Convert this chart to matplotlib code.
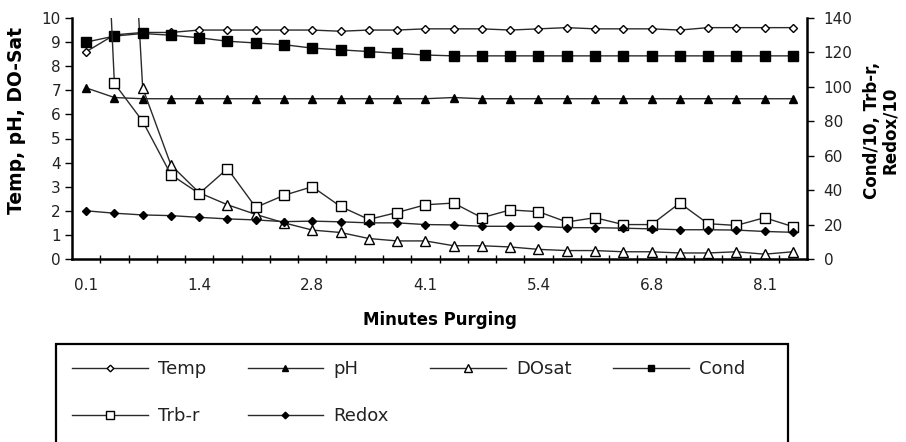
import matplotlib
matplotlib.use("Agg")
import matplotlib.pyplot as plt
import matplotlib.patches as mpatches
import numpy as np

# ---------------- data ----------------
minutes = [0.1, 0.4, 0.8, 1.1, 1.4, 1.8, 2.1, 2.4, 2.8, 3.1, 3.4, 3.8, 4.1,
           4.4, 4.8, 5.1, 5.4, 5.8, 6.1, 6.4, 6.8, 7.1, 7.4, 7.8, 8.1, 8.4]

# left axis series
temp = [8.6, 9.3, 9.4, 9.4, 9.5, 9.5, 9.5, 9.5, 9.5, 9.45, 9.5, 9.5, 9.55,
        9.55, 9.55, 9.5, 9.55, 9.6, 9.55, 9.55, 9.55, 9.5, 9.6, 9.6, 9.6, 9.6]
ph = [7.1, 6.7, 6.65, 6.65, 6.65, 6.65, 6.65, 6.65, 6.65, 6.65, 6.65, 6.65,
      6.65, 6.7, 6.65, 6.65, 6.65, 6.65, 6.65, 6.65, 6.65, 6.65, 6.65, 6.65,
      6.65, 6.65]
dosat = [27, 28, 7.1, 3.9, 2.75, 2.25, 1.85, 1.5, 1.2, 1.1, 0.85, 0.75, 0.75,
         0.55, 0.55, 0.5, 0.4, 0.35, 0.35, 0.3, 0.3, 0.25, 0.25, 0.3, 0.2, 0.3]

# right axis series
cond = [126, 129.5, 131, 130, 128.5, 126.5, 125.5, 124.5, 122.5, 121.5, 120.5,
        119.5, 118.5, 118, 118, 118, 118, 118, 118, 118, 118, 118, 118, 118,
        118, 118]
trb = [450, 102, 80, 49, 38, 52.5, 30, 37, 42, 30.5, 23, 27, 31.5, 32.5, 24,
       28.5, 27.5, 21.5, 24, 20, 20, 32.5, 20.5, 19.5, 24, 18.8]
redox = [28, 26.6, 25.6, 25.2, 24.2, 23.3, 22.7, 21.7, 22, 21.6, 21, 21, 20,
         19.8, 19, 19, 19, 18.2, 18.2, 17.9, 17.5, 17, 17, 16.8, 16, 15.5]

left_ticks = [0, 1, 2, 3, 4, 5, 6, 7, 8, 9, 10]
right_ticks = [0, 20, 40, 60, 80, 100, 120, 140]
label_every = 4

# ---------------- figure ----------------
W, H = 906, 442
fig = plt.figure(figsize=(W / 100, H / 100), dpi=100)
fig.patch.set_facecolor("white")

ax = fig.add_axes([72 / W, 1 - 259 / H, 735 / W, 241 / H])
ax2 = ax.twinx()

x = np.arange(len(minutes))
lc = "#2a2a2a"
common = dict(color=lc, lw=1.0, mec="black", mew=1.0)

h_temp, = ax.plot(x, temp, marker="D", ms=4.5, mfc="white", label="Temp", **common)
h_ph, = ax.plot(x, ph, marker="^", ms=6, mfc="black", label="pH", **common)
h_do, = ax.plot(x, dosat, marker="^", ms=7, mfc="white", label="DOsat", **common)
h_cond, = ax2.plot(x, cond, marker="s", ms=6.5, mfc="black", label="Cond", **common)
h_trb, = ax2.plot(x, trb, marker="s", ms=7.5, mfc="white", label="Trb-r", **common)
h_red, = ax2.plot(x, redox, marker="D", ms=4.5, mfc="black", label="Redox", **common)

ax.set_xlim(-0.5, len(minutes) - 0.5)
ax.set_ylim(0, 10)
ax2.set_ylim(0, 140)

tick_font = dict(family="DejaVu Sans", size=11)

ax.set_yticks(left_ticks)
ax.set_yticklabels([str(v) for v in left_ticks], **tick_font, color="#222222")
ax2.set_yticks(right_ticks)
ax2.set_yticklabels([str(v) for v in right_ticks], **tick_font, color="#222222")

ax.set_xticks(x[::label_every])
ax.set_xticklabels([f"{m:.1f}" for m in minutes[::label_every]], **tick_font,
                   color="#222222")
ax.set_xticks(np.arange(0.5, len(minutes) - 0.5, 1), minor=True)
ax.tick_params(axis="x", which="major", length=0, pad=14)
ax.tick_params(axis="x", which="minor", direction="inout", length=6, width=1)
ax.tick_params(axis="y", which="major", direction="out", length=5, width=1, pad=3)
ax2.tick_params(axis="y", which="major", direction="out", length=5, width=1, pad=7)

for a in (ax, ax2):
    a.spines["top"].set_visible(False)
    for s in ("left", "right", "bottom"):
        a.spines[s].set_linewidth(1.8)
        a.spines[s].set_color("black")
ax.spines["right"].set_visible(False)
ax2.spines["left"].set_visible(False)
ax2.spines["bottom"].set_visible(False)

lab_font = dict(family="DejaVu Sans", weight="bold")
ax.set_xlabel("Minutes Purging", fontsize=12, **lab_font)
ax.xaxis.set_label_coords(0.5, (259 - 320) / 241)
ax.xaxis.label.set_va("center")

ax.set_ylabel("Temp, pH, DO-Sat", fontsize=13.5, **lab_font)
ax.yaxis.set_label_coords((17 - 72) / 735, (259 - 121) / 241)
ax.yaxis.label.set_va("center")
ax.yaxis.label.set_ha("center")

ax2.set_ylabel("Cond/10, Trb-r,\nRedox/10", fontsize=12, rotation=90,
               linespacing=1.0, **lab_font)
ax2.yaxis.set_label_coords((881 - 72) / 735, (259 - 130) / 241)
ax2.yaxis.label.set_va("center")
ax2.yaxis.label.set_ha("center")

# ---------------- legend ----------------
# column-major fill so rows read: Temp, pH, DOsat, Cond / Trb-r, Redox
handles = [h_temp, h_trb, h_ph, h_red, h_do, h_cond]
leg = fig.legend(handles, [h.get_label() for h in handles], ncol=4,
                 loc="upper left",
                 bbox_to_anchor=(72 / W, 1 - 360 / H, (745 - 72) / W, 0),
                 mode="expand", frameon=False, borderpad=0, borderaxespad=0,
                 prop=dict(family="DejaVu Sans", size=13), markerscale=0.75,
                 handlelength=4.2, handletextpad=0.55, labelspacing=1.6)
for t in leg.get_texts():
    t.set_color("#222222")

box = mpatches.Rectangle((56 / W, 1 - 447 / H), (788 - 56) / W, (447 - 344) / H,
                         transform=fig.transFigure, fill=False, lw=1.6,
                         edgecolor="black")
fig.patches.append(box)

fig.savefig("out.png", dpi=100, facecolor="white")
